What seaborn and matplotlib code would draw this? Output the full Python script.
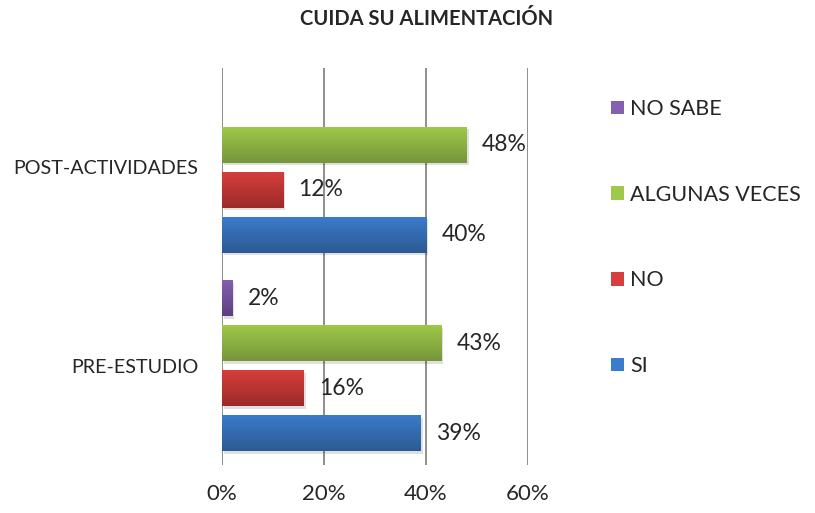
import matplotlib
matplotlib.use("Agg")
import matplotlib.pyplot as plt
import matplotlib.colors as mcolors
from matplotlib.patches import Patch
import numpy as np
import pandas as pd
import seaborn as sns

# datos
categorias = ['POST-ACTIVIDADES', 'PRE-ESTUDIO']
respuestas = ['NO SABE', 'ALGUNAS VECES', 'NO', 'SI']
si = [40, 39]
no = [12, 16]
algunas_veces = [48, 43]
no_sabe = [0, 2]
ticks = [0, 20, 40, 60]

colores = {'SI': ('#3c7ccc', '#2c5a94'),
           'NO': ('#d63f3c', '#9c2a28'),
           'ALGUNAS VECES': ('#9fc94a', '#76963a'),
           'NO SABE': ('#8660b0', '#5e3f82')}

valores = {'SI': si, 'NO': no, 'ALGUNAS VECES': algunas_veces, 'NO SABE': no_sabe}
rows = []
for r in respuestas:
    for c, v in zip(categorias, valores[r]):
        rows.append({'categoria': c, 'respuesta': r, 'valor': v})
df = pd.DataFrame(rows)

sns.set_style('white')
plt.rcParams['font.family'] = ['Lato', 'DejaVu Sans']

fig = plt.figure(figsize=(8.15, 5.13), dpi=100)
ax = fig.add_axes([222 / 815, 1 - 465 / 513, 306 / 815, 397 / 513])

palette = {r: colores[r][0] for r in respuestas}
sns.barplot(data=df, x='valor', y='categoria', hue='respuesta', order=categorias,
            hue_order=respuestas, palette=palette, orient='h', width=0.907,
            gap=0.2, legend=False, ax=ax, saturation=1, edgecolor='none')

# etiquetas de porcentaje
for cont, r in zip(ax.containers, respuestas):
    labels = [f'{v:.0f}%' if v > 0 else '' for v in valores[r]]
    ax.bar_label(cont, labels=labels, padding=11, fontsize=16.5)

# relleno degradado en cada barra
yl = ax.get_ylim()
for cont, r in zip(ax.containers, respuestas):
    cmap = mcolors.LinearSegmentedColormap.from_list(r, [colores[r][0], colores[r][1]])
    for bar in cont:
        x0, y0 = bar.get_x(), bar.get_y()
        w, h = bar.get_width(), bar.get_height()
        if w <= 0:
            continue
        # sombra
        ax.add_patch(plt.Rectangle((x0 + 0.4, y0 + 0.012), w, h, color='#000000',
                                   alpha=0.12, zorder=1, lw=0))
        grad = np.linspace(0, 1, 64).reshape(-1, 1)
        im = ax.imshow(grad, cmap=cmap, aspect='auto', extent=(x0, x0 + w, y0 + h, y0),
                       origin='upper', zorder=3)
        im.set_clip_path(bar)
        bar.set_zorder(2)
ax.set_xlim(0, 60)
ax.set_ylim(yl)

ax.set_xticks(ticks)
ax.set_xticklabels([f'{t}%' for t in ticks], fontsize=16)
ax.tick_params(axis='x', length=0, pad=14)
ax.tick_params(axis='y', length=0, pad=17, labelsize=14.2)
for t in ticks:
    ax.axvline(t, color='#868686', lw=1.3, zorder=0)
for s in ax.spines.values():
    s.set_visible(False)
ax.set_xlabel('')
ax.set_ylabel('')

fig.text(427 / 815, 1 - 19 / 513, 'CUIDA SU ALIMENTACIÓN', ha='center', va='center',
         fontsize=14.5, fontweight='bold')

handles = [Patch(facecolor=colores[r][0], edgecolor='none') for r in respuestas]
fig.legend(handles, respuestas, loc='upper left', bbox_to_anchor=(611 / 815, 1 - 99 / 513),
           frameon=False, fontsize=15.5, labelspacing=3.05, handlelength=0.6,
           handleheight=0.6, handletextpad=0.3, borderpad=0, borderaxespad=0)

fig.savefig('out.png', dpi=100)
